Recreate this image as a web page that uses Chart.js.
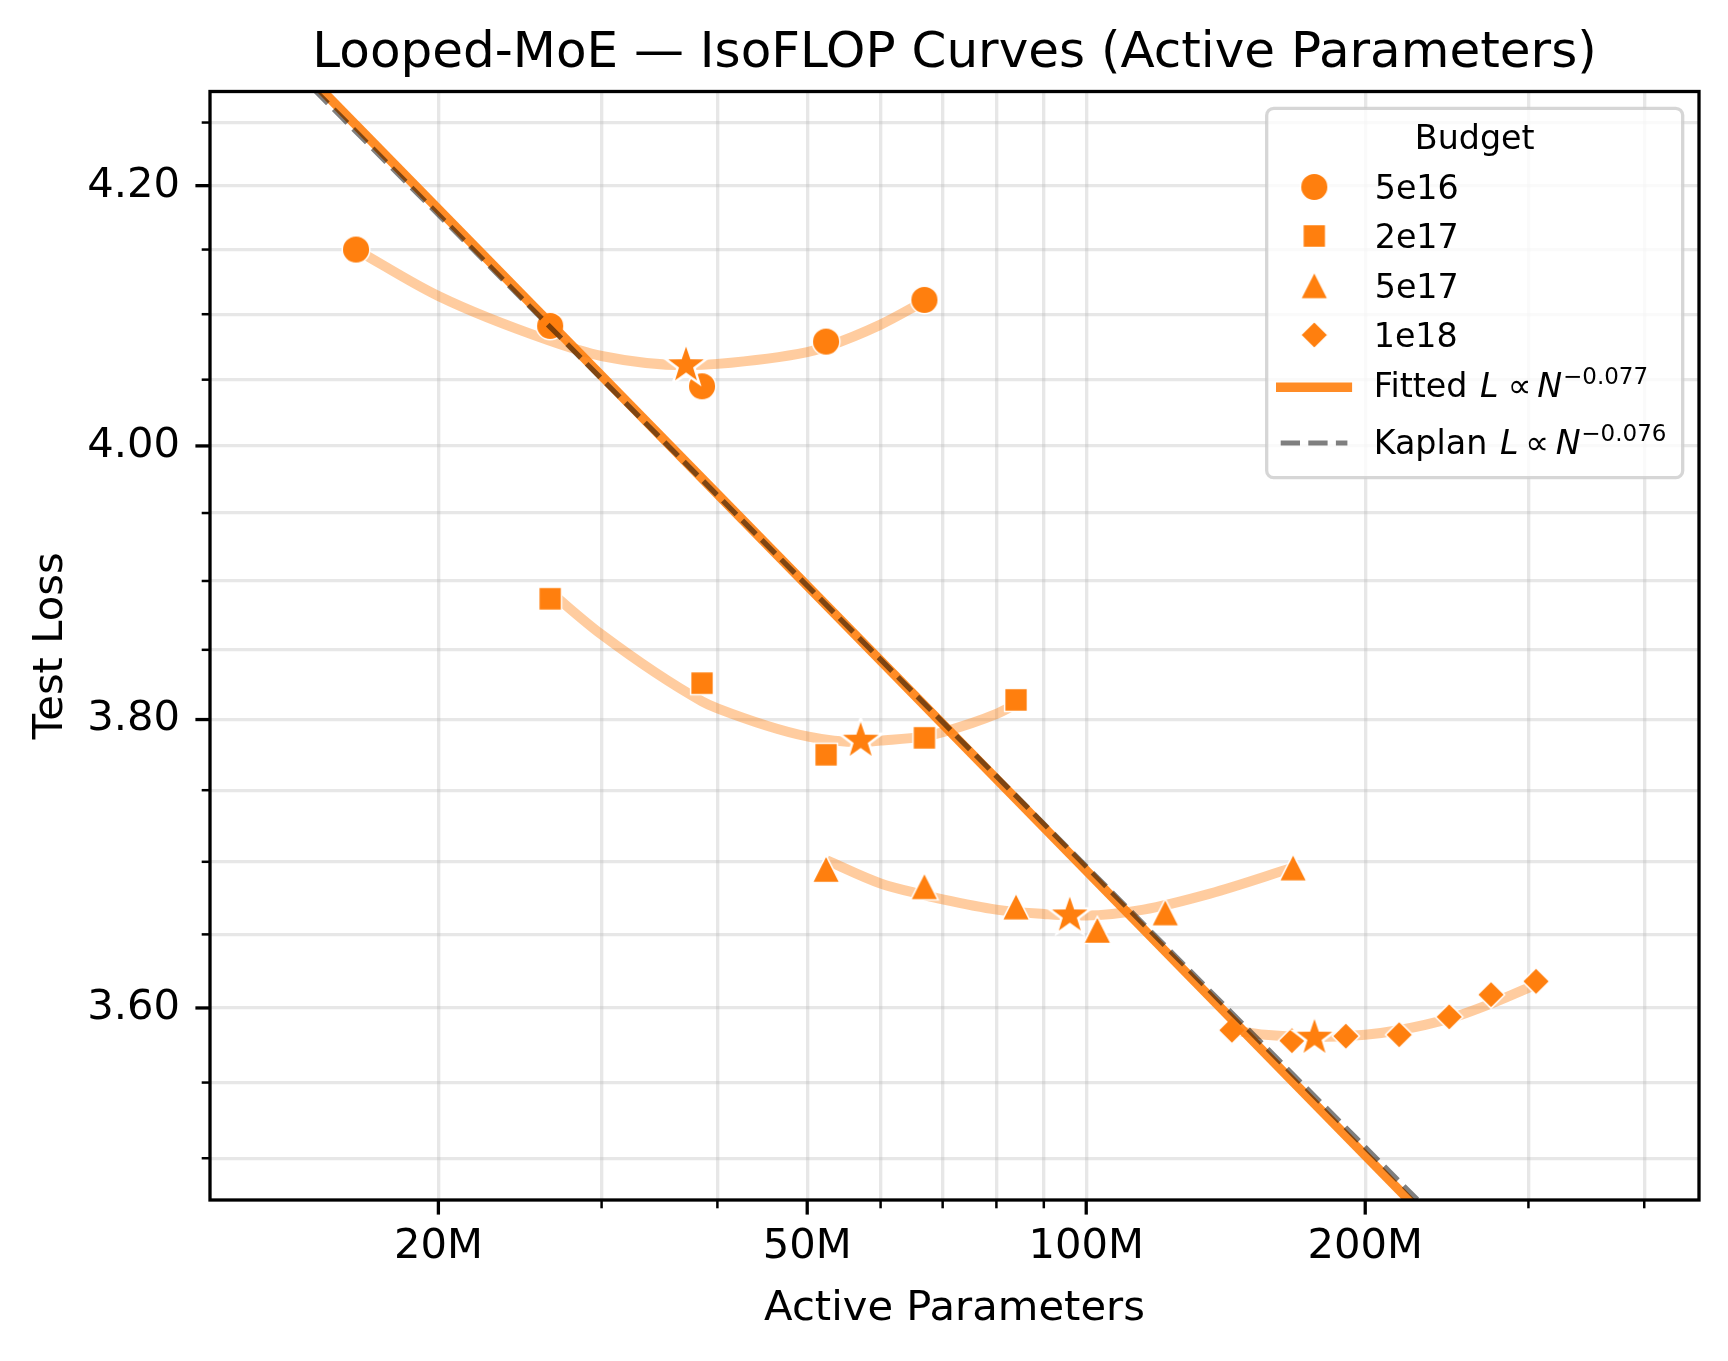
<!DOCTYPE html>
<html>
<head>
<meta charset="utf-8">
<title>Looped-MoE IsoFLOP Curves</title>
<script src="https://cdn.jsdelivr.net/npm/chart.js@4.4.0/dist/chart.umd.min.js"></script>
<style>
    html, body { margin: 0; padding: 0; background: #fff; }
    #wrap { width: 1728px; height: 1361px; }
</style>
</head>
<body>
<div id="wrap"><canvas id="isoflopChart" width="1728" height="1361"></canvas></div>
<script>
// Active parameters are in millions (M), loss is test loss
const budgets = ['5e16', '2e17', '5e17', '1e18'];

const params5e16 = [16.3, 26.4, 38.5, 52.4, 66.9];
const loss5e16 = [4.150, 4.091, 4.045, 4.079, 4.111];
const params2e17 = [26.4, 38.5, 52.4, 66.9, 84.0];
const loss2e17 = [3.887, 3.826, 3.775, 3.787, 3.814];
const params5e17 = [52.4, 66.9, 84.0, 102.8, 121.7, 167.2];
const loss5e17 = [3.695, 3.683, 3.669, 3.653, 3.665, 3.696];
const params1e18 = [143.6, 166.7, 190.6, 217.6, 246.4, 273.4, 305.7];
const loss1e18 = [3.585, 3.578, 3.581, 3.582, 3.594, 3.609, 3.618];

// parabola fits
const fit5e16N = [16.3, 20.0, 26.3, 30.0, 37.0, 40.0, 50.0, 52.4, 60.0, 66.9];
const fit5e16L = [4.150, 4.114, 4.080, 4.068, 4.061, 4.062, 4.071, 4.075, 4.092, 4.110];
const fit2e17N = [26.4, 30.0, 38.5, 40.0, 50.0, 57.1, 60.0, 66.9, 70.0, 80.0, 84.0];
const fit2e17L = [3.892, 3.861, 3.813, 3.808, 3.788, 3.784, 3.785, 3.788, 3.791, 3.804, 3.811];
const fit5e17N = [52.5, 60.0, 66.9, 70.0, 80.0, 90.0, 96.0, 100.0, 115.3, 136.0, 167.2];
const fit5e17L = [3.701, 3.685, 3.677, 3.674, 3.667, 3.664, 3.663, 3.663, 3.667, 3.678, 3.696];
const fit1e18N = [143.8, 155.9, 176.4, 200.0, 217.2, 246.9, 273.4, 305.9];
const fit1e18L = [3.585, 3.582, 3.5805, 3.582, 3.585, 3.593, 3.603, 3.616];

// compute-optimal points (stars)
const optimalN = [37.0, 57.1, 96.0, 176.3];
const optimalL = [4.061, 3.785, 3.663, 3.580];

// power laws (end points beyond the axes, clipped)
const fittedN = [14, 240];
const fittedL = [4.298, 3.453];
const kaplanN = [14, 240];
const kaplanL = [4.292, 3.459];

// axes
const xMajor = [20, 50, 100, 200];
const xMinor = [30, 40, 60, 70, 80, 90, 300, 400];
const yMajor = [3.6, 3.8, 4.0, 4.2];
const yMinor = [3.5, 3.55, 3.65, 3.7, 3.75, 3.85, 3.9, 3.95, 4.05, 4.1, 4.15, 4.25];
const xRange = [11.34, 458.3];
const yRange = [3.4727, 4.2748];

document.addEventListener('DOMContentLoaded', () => {
    const ORANGE = '#ff7f0e';
    const FONT = '"DejaVu Sans", "Liberation Sans", sans-serif';
    Chart.defaults.font.family = FONT;

    const makeMarker = (shape, edge) => {
        const c = document.createElement('canvas');
        c.width = 60; c.height = 60;
        const g = c.getContext('2d');
        g.translate(30, 30);
        g.beginPath();
        if (shape === 'circle') {
            g.arc(0, 0, 13.8, 0, Math.PI * 2);
        } else if (shape === 'square') {
            g.rect(-11.4, -11.4, 22.8, 22.8);
        } else if (shape === 'triangle') {
            g.moveTo(0, -13.6); g.lineTo(13.8, 13.6); g.lineTo(-13.8, 13.6);
        } else if (shape === 'diamond') {
            g.moveTo(0, -13.6); g.lineTo(13.6, 0); g.lineTo(0, 13.6); g.lineTo(-13.6, 0);
        } else if (shape === 'star') {
            for (let k = 0; k < 10; k++) {
                const r = k % 2 ? 8.9 : 22.5;
                const a = -Math.PI / 2 + k * Math.PI / 5;
                if (k === 0) g.moveTo(r * Math.cos(a), r * Math.sin(a));
                else g.lineTo(r * Math.cos(a), r * Math.sin(a));
            }
        }
        g.closePath();
        g.fillStyle = ORANGE;
        g.fill();
        g.lineWidth = edge;
        g.strokeStyle = '#ffffff';
        g.stroke();
        return c;
    };

    const markers = {
        circle: makeMarker('circle', 1.5),
        square: makeMarker('square', 1.5),
        triangle: makeMarker('triangle', 1.5),
        diamond: makeMarker('diamond', 1.5),
        star: makeMarker('star', 2.5)
    };
    const budgetMarkers = [markers.circle, markers.square, markers.triangle, markers.diamond];

    const toPoints = (xs, ys) => xs.map((x, i) => ({ x, y: ys[i] }));

    const fits = [[fit5e16N, fit5e16L], [fit2e17N, fit2e17L], [fit5e17N, fit5e17L], [fit1e18N, fit1e18L]];
    const points = [[params5e16, loss5e16], [params2e17, loss2e17], [params5e17, loss5e17], [params1e18, loss1e18]];

    const datasets = [];
    fits.forEach(([n, l], i) => datasets.push({
        label: budgets[i] + ' fit',
        data: toPoints(n, l),
        showLine: true,
        pointRadius: 0,
        borderColor: 'rgba(255,127,14,0.4)',
        borderWidth: 10,
        cubicInterpolationMode: 'monotone',
        borderJoinStyle: 'round',
        order: 5
    }));
    points.forEach(([n, l], i) => datasets.push({
        label: budgets[i],
        data: toPoints(n, l),
        showLine: false,
        pointStyle: budgetMarkers[i],
        pointRadius: 14,
        order: 4
    }));
    datasets.push({
        label: 'optimum',
        data: toPoints(optimalN, optimalL),
        showLine: false,
        pointStyle: markers.star,
        pointRadius: 14,
        order: 3
    });
    datasets.push({
        label: 'Fitted',
        data: toPoints(fittedN, fittedL),
        showLine: true,
        pointRadius: 0,
        borderColor: 'rgba(255,127,14,0.9)',
        borderWidth: 9.4,
        clip: 0,
        order: 2
    });
    datasets.push({
        label: 'Kaplan',
        data: toPoints(kaplanN, kaplanL),
        showLine: true,
        pointRadius: 0,
        borderColor: 'rgba(0,0,0,0.5)',
        borderWidth: 5.2,
        borderDash: [19.3, 8.3],
        clip: 0,
        order: 1
    });

    const isIn = (arr, v) => arr.some(m => Math.abs(m - v) < 1e-9);
    const gridStyle = { color: 'rgba(176,176,176,0.3)', lineWidth: 3.3, drawTicks: false };
    const tickFont = { family: FONT, size: 41.7 };

    // place text so that its ink starts at inkX
    const inkText = (ctx, text, inkX, baseline) => {
        const m = ctx.measureText(text);
        ctx.fillText(text, inkX + m.actualBoundingBoxLeft, baseline);
    };

    const drawMath = (ctx, baseline, word, exponent, inks) => {
        ctx.font = `33.3px ${FONT}`;
        inkText(ctx, word, inks[0], baseline);
        ctx.font = `italic 33.3px ${FONT}`;
        inkText(ctx, 'L', inks[1], baseline);
        ctx.font = `33.3px ${FONT}`;
        inkText(ctx, '\u221d', inks[2], baseline);
        ctx.font = `italic 33.3px ${FONT}`;
        inkText(ctx, 'N', inks[3], baseline);
        ctx.font = `23px ${FONT}`;
        inkText(ctx, exponent, inks[4], baseline - 13);
    };

    const roundRectPath = (ctx, x, y, w, h, r) => {
        ctx.beginPath();
        ctx.moveTo(x + r, y);
        ctx.lineTo(x + w - r, y);
        ctx.arcTo(x + w, y, x + w, y + r, r);
        ctx.lineTo(x + w, y + h - r);
        ctx.arcTo(x + w, y + h, x + w - r, y + h, r);
        ctx.lineTo(x + r, y + h);
        ctx.arcTo(x, y + h, x, y + h - r, r);
        ctx.lineTo(x, y + r);
        ctx.arcTo(x, y, x + r, y, r);
        ctx.closePath();
    };

    const drawLegend = (ctx) => {
        const bx = 1266.7, by = 108.3, bw = 416, bh = 369.4;
        roundRectPath(ctx, bx, by, bw, bh, 7);
        ctx.fillStyle = 'rgba(255,255,255,0.8)';
        ctx.fill();
        ctx.lineWidth = 3.3;
        ctx.strokeStyle = 'rgba(204,204,204,0.8)';
        ctx.stroke();

        ctx.fillStyle = '#000';
        ctx.textBaseline = 'alphabetic';
        ctx.textAlign = 'center';
        ctx.font = `33.3px ${FONT}`;
        ctx.fillText('Budget', bx + bw / 2, 149.3);

        ctx.textAlign = 'left';
        const textX = 1376.7, handleX = 1314.3;
        const rowBase = [199.3, 248.3, 297.7, 347.3];
        budgets.forEach((b, i) => {
            const m = budgetMarkers[i];
            ctx.drawImage(m, handleX - m.width / 2, rowBase[i] - 12.3 - m.height / 2);
            ctx.font = `33.3px ${FONT}`;
            inkText(ctx, b, textX, rowBase[i]);
        });

        ctx.save();
        ctx.strokeStyle = 'rgba(255,127,14,0.9)';
        ctx.lineWidth = 9.4;
        ctx.lineCap = 'square';
        ctx.beginPath(); ctx.moveTo(1280.7, 387.3); ctx.lineTo(1347.4, 387.3); ctx.stroke();
        ctx.strokeStyle = 'rgba(0,0,0,0.5)';
        ctx.lineWidth = 5.2;
        ctx.lineCap = 'butt';
        ctx.setLineDash([19.3, 8.3]);
        ctx.beginPath(); ctx.moveTo(1280.7, 443); ctx.lineTo(1347.4, 443); ctx.stroke();
        ctx.restore();

        drawMath(ctx, 396.7, 'Fitted', '\u22120.077', [textX, 1480, 1510.7, 1537.3, 1565]);
        drawMath(ctx, 454, 'Kaplan', '\u22120.076', [textX, 1500, 1528.3, 1555.7, 1583.3]);
    };

    const decorPlugin = {
        id: 'decor',
        afterDraw(chart) {
            const { ctx, chartArea: a, scales: { x, y } } = chart;
            ctx.save();
            // spines
            ctx.strokeStyle = '#000';
            ctx.lineWidth = 3.3;
            ctx.strokeRect(a.left, a.top, a.right - a.left, a.bottom - a.top);

            // tick marks, major and minor
            xMajor.concat(xMinor).forEach(v => {
                const major = isIn(xMajor, v);
                const px = x.getPixelForValue(v);
                ctx.lineWidth = major ? 3.3 : 2.5;
                ctx.beginPath();
                ctx.moveTo(px, a.bottom);
                ctx.lineTo(px, a.bottom + (major ? 14.6 : 8.3));
                ctx.stroke();
            });
            yMajor.concat(yMinor).forEach(v => {
                const major = isIn(yMajor, v);
                const py = y.getPixelForValue(v);
                ctx.lineWidth = major ? 3.3 : 2.5;
                ctx.beginPath();
                ctx.moveTo(a.left, py);
                ctx.lineTo(a.left - (major ? 14.6 : 8.3), py);
                ctx.stroke();
            });

            // title and axis labels
            const cx = (a.left + a.right) / 2;
            ctx.fillStyle = '#000';
            ctx.textAlign = 'center';
            ctx.textBaseline = 'alphabetic';
            ctx.font = `50px ${FONT}`;
            ctx.fillText('Looped-MoE \u2014 IsoFLOP Curves (Active Parameters)', cx, 66.5);
            ctx.font = `41.7px ${FONT}`;
            ctx.fillText('Active Parameters', cx, 1320);
            ctx.save();
            ctx.translate(61.5, (a.top + a.bottom) / 2);
            ctx.rotate(-Math.PI / 2);
            ctx.fillText('Test Loss', 0, 0);
            ctx.restore();

            drawLegend(ctx);
            ctx.restore();
        }
    };

    const ctx = document.getElementById('isoflopChart').getContext('2d');
    new Chart(ctx, {
        type: 'scatter',
        data: { datasets },
        options: {
            responsive: false,
            animation: false,
            devicePixelRatio: 1,
            events: [],
            layout: { padding: { top: 91.5, right: 29, left: 0, bottom: 0 } },
            plugins: {
                legend: { display: false },
                title: { display: false },
                tooltip: { enabled: false }
            },
            scales: {
                x: {
                    type: 'logarithmic',
                    min: xRange[0],
                    max: xRange[1],
                    afterFit: (scale) => { scale.height = 161; },
                    afterBuildTicks: (scale) => {
                        scale.ticks = xMajor.concat(xMinor).sort((p, q) => p - q).map(v => ({ value: v }));
                    },
                    grid: gridStyle,
                    border: { display: false },
                    ticks: {
                        autoSkip: false,
                        maxRotation: 0,
                        padding: 22,
                        color: '#000',
                        font: tickFont,
                        callback: (v) => isIn(xMajor, v) ? `${v}M` : ''
                    }
                },
                y: {
                    type: 'logarithmic',
                    min: yRange[0],
                    max: yRange[1],
                    afterFit: (scale) => { scale.width = 210; },
                    afterBuildTicks: (scale) => {
                        scale.ticks = yMajor.concat(yMinor).sort((p, q) => p - q).map(v => ({ value: v }));
                    },
                    grid: gridStyle,
                    border: { display: false },
                    ticks: {
                        autoSkip: false,
                        padding: 30,
                        color: '#000',
                        font: tickFont,
                        callback: (v) => isIn(yMajor, v) ? v.toFixed(2) : ''
                    }
                }
            }
        },
        plugins: [decorPlugin]
    });
});
</script>
</body>
</html>
